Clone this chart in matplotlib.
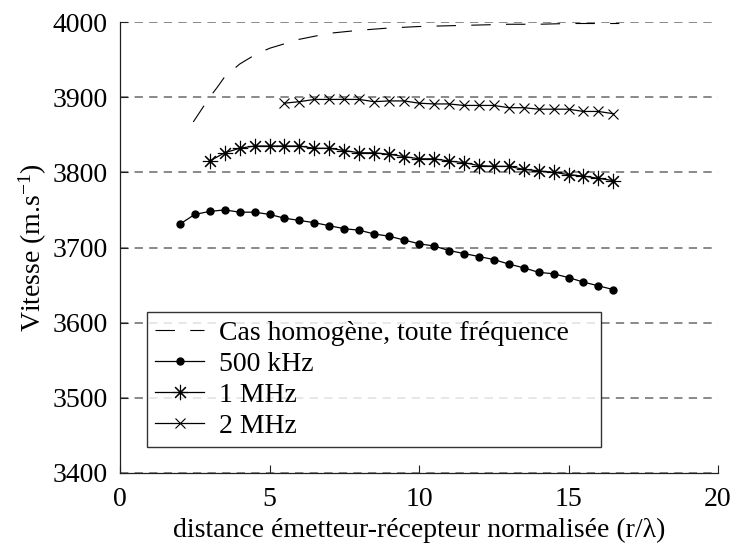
import matplotlib
matplotlib.use('Agg')
import matplotlib.pyplot as plt

plt.rcParams['font.family'] = ['Liberation Serif', 'DejaVu Serif']
plt.rcParams['mathtext.fontset'] = 'custom'
plt.rcParams['mathtext.rm'] = 'Liberation Serif'
plt.rcParams['mathtext.it'] = 'Liberation Serif:italic'
plt.rcParams['lines.scale_dashes'] = False

# cas homogène (courbe théorique)
x_homog = [2.45, 2.8, 3.0, 3.25, 3.5, 4.0, 4.5, 5.0, 5.5, 6.0, 7.0, 8.0, 9.0,
           10.0, 11.0, 12.0, 13.0, 14.0, 15.0, 16.0, 16.7]
v_homog = [3867, 3888, 3900, 3913, 3927, 3944, 3956, 3965, 3971, 3977, 3985,
           3989, 3992, 3994, 3995, 3996, 3997, 3997, 3998, 3998, 3998]

x_500k = [2.0 + 0.5 * i for i in range(30)]
v_500k = [3731, 3744, 3748, 3750, 3747, 3747, 3744, 3739, 3736, 3733,
          3729, 3725, 3723, 3718, 3715, 3710, 3705, 3702, 3696, 3692,
          3688, 3684, 3678, 3673, 3667, 3665, 3660, 3654, 3649, 3644]

x_1M = [3.0 + 0.5 * i for i in range(28)]
v_1M = [3815, 3826, 3832, 3835, 3835, 3835, 3835, 3832, 3832, 3829,
        3826, 3826, 3824, 3821, 3818, 3818, 3815, 3813, 3809, 3808,
        3808, 3804, 3802, 3800, 3797, 3795, 3792, 3789]

x_2M = [5.5 + 0.5 * i for i in range(23)]
v_2M = [3892, 3894, 3897, 3897, 3897, 3897, 3894, 3895, 3895, 3892,
        3891, 3891, 3889, 3889, 3889, 3886, 3886, 3884, 3884, 3884,
        3881, 3881, 3878]

labels = ['Cas homogène, toute fréquence', '500 kHz', '1 MHz', '2 MHz']

fig = plt.figure(figsize=(7.36, 5.51), dpi=100)
ax = fig.add_axes([120 / 736, 78 / 551, 598 / 736, 451 / 551])

# grille horizontale en tirets gris
for v in range(3400, 4001, 100):
    ax.axhline(v, color='#808080', linewidth=1.3, dashes=(6, 4.5), zorder=0)

ax.plot(x_homog, v_homog, color='black', linewidth=0.8, dashes=(14, 11),
        label=labels[0])
ax.plot(x_500k, v_500k, color='black', linewidth=0.9, marker='o',
        markersize=5, label=labels[1])
ax.plot(x_1M, v_1M, color='black', linewidth=0.9, marker=(8, 2, 0),
        markersize=11, markeredgewidth=0.8, label=labels[2])
ax.plot(x_2M, v_2M, color='black', linewidth=0.9, marker='x',
        markersize=7, markeredgewidth=0.8, label=labels[3])

ax.set_xlim(0, 20)
ax.set_ylim(3400, 4000)
ax.set_xticks([0, 5, 10, 15, 20])
ax.set_yticks(range(3400, 4001, 100))

ax.spines['top'].set_visible(False)
ax.spines['right'].set_visible(False)
for s in ['left', 'bottom']:
    ax.spines[s].set_color('#202020')
    ax.spines[s].set_linewidth(0.9)
ax.tick_params(direction='in', length=6, width=0.8, labelsize=20,
               colors='#202020', labelcolor='black')
ax.tick_params(axis='x', pad=10)
ax.tick_params(axis='y', pad=9)

ax.set_xlabel('distance émetteur-récepteur normalisée (r/λ)', fontsize=20,
              labelpad=4)
ax.set_ylabel('Vitesse (m.s$^{-1}$)', fontsize=20, labelpad=2.5)

# légende élargie jusqu'à x ~ 16 comme sur l'original
leg = ax.legend(loc='lower left', bbox_to_anchor=(0.045, 0.058, 0.759, 0.3),
                mode='expand', borderaxespad=0, fontsize=20, frameon=True,
                fancybox=False, handlelength=1.75, handletextpad=0.55,
                borderpad=0.3, labelspacing=0.2)
leg.get_frame().set_edgecolor('black')
leg.get_frame().set_linewidth(1.0)

fig.savefig('out.png', dpi=100)
